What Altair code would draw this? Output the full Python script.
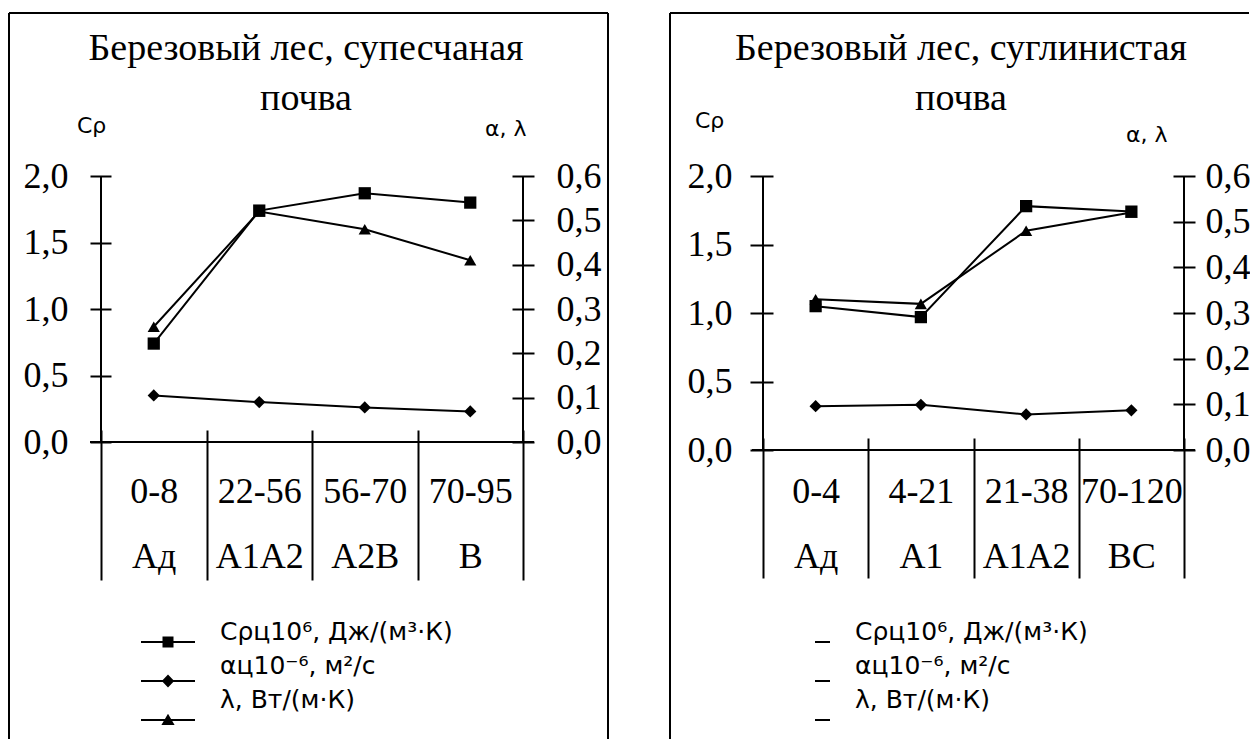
import altair as alt
import pandas as pd

SERIES = ["Cρц10⁶, Дж/(м³·К)", "αц10⁻⁶, м²/с", "λ, Вт/(м·К)"]

# Left panel: birch forest, sandy loam soil
L_title = ["Березовый лес, супесчаная", "почва"]
L_depth = ["0-8", "22-56", "56-70", "70-95"]
L_horizon = ["Ад", "А1А2", "А2В", "В"]
L_cp = [0.74, 1.74, 1.87, 1.80]
L_alpha = [0.35, 0.30, 0.26, 0.23]
L_lambda = [0.26, 0.52, 0.48, 0.41]

# Right panel: birch forest, loamy soil
R_title = ["Березовый лес, суглинистая", "почва"]
R_depth = ["0-4", "4-21", "21-38", "70-120"]
R_horizon = ["Ад", "А1", "А1А2", "ВС"]
R_cp = [1.05, 0.97, 1.78, 1.74]
R_alpha = [0.32, 0.33, 0.26, 0.29]
R_lambda = [0.33, 0.32, 0.48, 0.52]

LEFT_TICKS = [0, 0.5, 1.0, 1.5, 2.0]
RIGHT_TICKS = [0, 0.1, 0.2, 0.3, 0.4, 0.5, 0.6]

SERIF = "Liberation Serif"
SANS = "DejaVu Sans"
LBL = "replace(format(datum.value, '.1f'), '.', ',')"

one = pd.DataFrame({"a": [0]})


def rule(**enc):
    return alt.Chart(one).mark_rule(color="black", strokeWidth=2).encode(**enc)


def text(t, x, y, font, size, align="center", lh=50):
    return alt.Chart(one).mark_text(text=t, font=font, fontSize=size, align=align,
                                    baseline="alphabetic", lineHeight=lh, color="black").encode(
        x=alt.value(x), y=alt.value(y))


def legend_layer(df, paths, legx, legy, loff, row_pad, label_expr=None, font_size=25):
    kw = dict(orient="none", legendX=legx, legendY=legy, title=None, symbolSize=400,
              symbolStrokeWidth=0, symbolFillColor="black", symbolOpacity=1,
              labelFont=SANS, labelFontSize=font_size, labelColor="black",
              labelOffset=loff, rowPadding=row_pad, padding=0, labelLimit=500)
    if label_expr is not None:
        kw["labelExpr"] = label_expr
    return alt.Chart(df).mark_point(filled=True, color="black", size=400, opacity=1).encode(
        shape=alt.Shape("series:N", scale=alt.Scale(domain=SERIES, range=paths),
                        legend=alt.Legend(**kw))
    ).transform_filter("false")


def panel(title, depth, horizon, cp, alpha, lam, W, H, cfg):
    cats = [f"{d}|{h}" for d, h in zip(depth, horizon)]
    left_df = pd.DataFrame({"cat": cats * 2,
                            "series": [SERIES[0]] * 4 + [SERIES[1]] * 4,
                            "value": cp + alpha})
    right_df = pd.DataFrame({"cat": cats, "series": [SERIES[2]] * 4, "value": lam})
    all_df = pd.concat([left_df, right_df], ignore_index=True)

    xenc = alt.X("cat:N", sort=cats, title=None,
                 scale=alt.Scale(type="band", domain=cats, paddingInner=0, paddingOuter=0),
                 axis=alt.Axis(orient="bottom", domain=False, tickBand="extent",
                               tickSize=cfg["xtick"], offset=-12, tickWidth=2,
                               labelExpr="split(datum.label, '|')", labelPadding=cfg["xpad"],
                               labelLineHeight=65, labelAngle=0, labelOverlap=False,
                               labelBaseline="top"))
    shape_scale = alt.Scale(domain=SERIES, range=["square", "diamond", "triangle-up"])

    yl = alt.Y("value:Q", title=None,
               scale=alt.Scale(domain=[0, 2], nice=False, zero=True),
               axis=alt.Axis(orient="left", values=LEFT_TICKS, labelExpr=LBL, offset=-10,
                             tickSize=cfg["ltick"], domain=False, labelPadding=cfg["lpad"]))
    yr = alt.Y("value:Q", title=None,
               scale=alt.Scale(domain=[0, 0.6], nice=False, zero=True),
               axis=alt.Axis(orient="right", values=RIGHT_TICKS, labelExpr=LBL, offset=-11,
                             tickSize=cfg["rtick"], domain=False, labelPadding=cfg["rpad"]))

    lineL = alt.Chart(left_df).mark_line(color="black", strokeWidth=2).encode(
        x=xenc, y=yl, detail="series:N")
    ptsL = alt.Chart(left_df).mark_point(filled=True, color="black", opacity=1, size=150).encode(
        x=xenc, y=yl, shape=alt.Shape("series:N", scale=shape_scale, legend=None))
    lineR = alt.Chart(right_df).mark_line(color="black", strokeWidth=2).encode(
        x=xenc, y=yr, detail="series:N")
    ptsR = alt.Chart(right_df).mark_point(filled=True, color="black", opacity=1, size=150).encode(
        x=xenc, y=yr, shape=alt.Shape("series:N", scale=shape_scale, legend=None))

    data_layers = alt.layer(alt.layer(lineL, ptsL), alt.layer(lineR, ptsR)).resolve_scale(
        y="independent")

    # legend text column (rows 33 px apart)
    leg_text = legend_layer(all_df, [BLANK] * 3, cfg["lab_x"], cfg["lab_y"], 0, 8)
    # legend symbol column (rows 39 px apart, offset like the original)
    leg_sym = legend_layer(all_df, cfg["paths"], cfg["sym_x"], cfg["sym_y"], 0, 19,
                           label_expr="''", font_size=1)

    deco = [
        rule(x=alt.value(0), y=alt.value(0), y2=alt.value(H)),
        rule(x=alt.value(W), y=alt.value(0), y2=alt.value(H)),
        rule(x=alt.value(-11), x2=alt.value(W + 11), y=alt.value(H)),
    ] + cfg["border"] + [
        text(title, cfg["tx"], -116, SERIF, 38),
        text("Cρ", cfg["cpx"], cfg["cpy"], SANS, 22, "left"),
        text("α, λ", cfg["alx"], cfg["aly"], SANS, 22, "left"),
    ]

    return alt.layer(*deco, data_layers, leg_text, leg_sym).resolve_scale(
        shape="independent").properties(width=W, height=H)


BLANK = "M0,0L0,0"
ANCHOR = "M0,-1L0,-1M0,1L0,1"


def sym(shape, with_marker=True, half=2.7):
    line = f"{ANCHOR}M{-half},-0.1H{half}V0.1H{-half}Z"
    if not with_marker:
        return line
    if shape == "square":
        m = "M-0.55,-0.55h1.1v1.1h-1.1Z"
    elif shape == "diamond":
        m = "M0,-0.65L0.62,0L0,0.65L-0.62,0Z"
    else:
        m = "M0,-0.62L0.66,0.5L-0.66,0.5Z"
    return line + m


WL, HL = 422, 266
WR, HR = 421, 274

left_cfg = dict(
    xtick=150, xpad=-106, ltick=21, lpad=22, rtick=22, rpad=22,
    paths=[sym(s) for s in ["square", "diamond", "triangle"]],
    lab_x=94, lab_y=443.5, sym_x=57, sym_y=456, tx=205,
    cpx=-24, cpy=-43, alx=384, aly=-40,
    border=[rule(x=alt.value(-92), x2=alt.value(507), y=alt.value(-163)),
            rule(x=alt.value(-92), y=alt.value(-163), y2=alt.value(563)),
            rule(x=alt.value(507), y=alt.value(-163), y2=alt.value(563))],
)
right_cfg = dict(
    xtick=140, xpad=-104, ltick=23, lpad=18, rtick=22, rpad=10,
    paths=[sym(s, with_marker=False, half=0.75) for s in ["square", "diamond", "triangle"]],
    lab_x=67, lab_y=443.5, sym_x=49.5, sym_y=456, tx=198,
    cpx=-68, cpy=-48, alx=363, aly=-34,
    border=[rule(x=alt.value(-93), x2=alt.value(486), y=alt.value(-163)),
            rule(x=alt.value(-93), y=alt.value(-163), y2=alt.value(563))],
)

left = panel(L_title, L_depth, L_horizon, L_cp, L_alpha, L_lambda, WL, HL, left_cfg)
right = panel(R_title, R_depth, R_horizon, R_cp, R_alpha, R_lambda, WR, HR, right_cfg)

chart = alt.hconcat(left, right, spacing=60).properties(
    padding={"left": 0, "top": 4, "right": 0, "bottom": 0}
).configure_view(stroke=None).configure_axis(
    labelFont=SERIF, labelFontSize=36, labelColor="black", tickColor="black",
    tickWidth=2, domainColor="black", grid=False
)

chart.save("out.html", embed_options={"renderer": "svg", "actions": False})
